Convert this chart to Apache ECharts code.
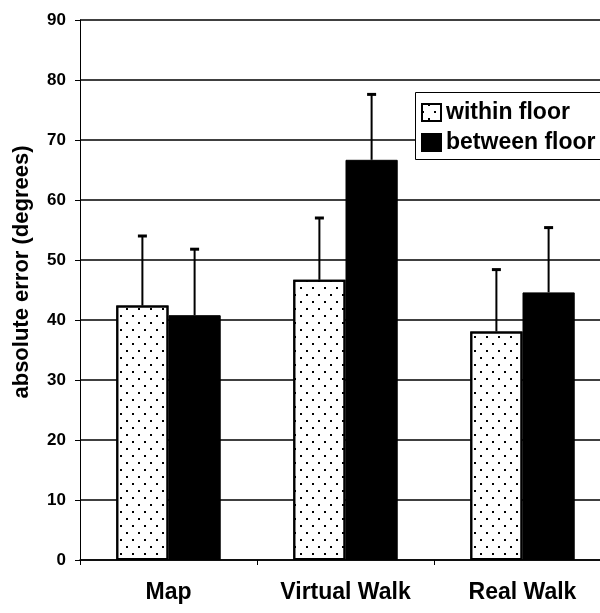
<!DOCTYPE html>
<html>
<head>
<meta charset="utf-8">
<title>absolute error</title>
<script src="https://cdn.jsdelivr.net/npm/echarts@6/dist/echarts.min.js"></script>
<style>
  html, body { margin: 0; padding: 0; background: #fff; }
  #chart { width: 600px; height: 613px; }
</style>
</head>
<body>
<div id="chart"></div>
<script>
// values
const categories = ['Map', 'Virtual Walk', 'Real Walk']
const withinFloor = [42.4, 46.7, 38.1]
const betweenFloor = [40.8, 66.7, 44.6]
const withinErr = [11.6, 10.3, 10.3]
const betweenErr = [11.0, 10.9, 10.8]
const yTicks = [0, 10, 20, 30, 40, 50, 60, 70, 80, 90]

const font = 'Liberation Sans, Arial, sans-serif'
const gapRatio = 0.41

// error bar on top of each bar, only the plus side
function errorBar (values, errs, side) {
  return {
    type: 'custom',
    z: 5,
    silent: true,
    data: values.map((v, i) => [i, v, v + errs[i]]),
    renderItem: function (params, api) {
      const band = api.size([1, 0])[0]
      const barW = band * (1 - gapRatio) / 2
      const lo = api.coord([api.value(0), api.value(1)])
      const hi = api.coord([api.value(0), api.value(2)])
      const x = lo[0] + side * barW / 2
      return {
        type: 'group',
        children: [
          { type: 'line', shape: { x1: x, y1: lo[1], x2: x, y2: hi[1] }, style: { stroke: '#000', lineWidth: 2 } },
          { type: 'line', shape: { x1: x - 4.5, y1: hi[1], x2: x + 4.5, y2: hi[1] }, style: { stroke: '#000', lineWidth: 3 } }
        ]
      }
    }
  }
}

const myChart = echarts.init(document.getElementById('chart'))
myChart.setOption({
  animation: false,
  backgroundColor: '#fff',
  textStyle: { fontFamily: font },
  // plot area runs a little past the right edge, as in the scan
  grid: { left: 80, top: 20, bottom: 53, right: -11, containLabel: false, outerBoundsMode: 'none' },
  // legend frame runs off the right edge too
  graphic: [{
    type: 'rect',
    z: 3,
    silent: true,
    shape: { x: 415.5, y: 92.5, width: 220, height: 67 },
    style: { fill: '#fff', stroke: '#000', lineWidth: 1 }
  }],
  legend: {
    data: ['within floor', 'between floor'],
    orient: 'vertical',
    left: 421,
    top: 101,
    itemWidth: 19,
    itemHeight: 17,
    itemGap: 7,
    padding: 0,
    z: 6,
    icon: 'rect',
    textStyle: { fontSize: 23, fontWeight: 'bold', color: '#000', fontFamily: font }
  },
  xAxis: {
    type: 'category',
    data: categories,
    axisLine: { lineStyle: { color: '#000', width: 1.5 } },
    axisTick: { show: true, length: 5, lineStyle: { color: '#000' } },
    axisLabel: { color: '#000', fontSize: 23, fontWeight: 'bold', margin: 21, fontFamily: font }
  },
  yAxis: {
    type: 'value',
    min: 0,
    max: 90,
    interval: 10,
    name: 'absolute error (degrees)',
    nameLocation: 'middle',
    nameGap: 47,
    nameTextStyle: { fontSize: 22, fontWeight: 'bold', color: '#000', fontFamily: font, padding: [0, 0, 0, 36] },
    axisLine: { show: true, lineStyle: { color: '#000', width: 1 } },
    axisTick: { show: true, length: 5, lineStyle: { color: '#000' } },
    axisLabel: {
      color: '#000', fontSize: 17, fontWeight: 'bold', margin: 14, fontFamily: font,
      formatter: v => (yTicks.indexOf(v) >= 0 ? String(v) : '')
    },
    splitLine: { show: true, lineStyle: { color: '#000', width: 1.5 } }
  },
  series: [
    {
      name: 'within floor',
      type: 'bar',
      data: withinFloor,
      barGap: '0%',
      barCategoryGap: (gapRatio * 100) + '%',
      z: 2,
      itemStyle: {
        color: '#fff',
        borderColor: '#000',
        borderWidth: 2,
        decal: {
          symbol: 'rect',
          symbolSize: 1,
          color: '#000',
          dashArrayX: [[2, 10], [0, 6, 2, 4]],
          dashArrayY: [2, 5]
        }
      }
    },
    {
      name: 'between floor',
      type: 'bar',
      data: betweenFloor,
      z: 2,
      itemStyle: { color: '#000', borderColor: '#000', borderWidth: 1 }
    },
    errorBar(withinFloor, withinErr, -1),
    errorBar(betweenFloor, betweenErr, 1)
  ]
})
</script>
</body>
</html>
